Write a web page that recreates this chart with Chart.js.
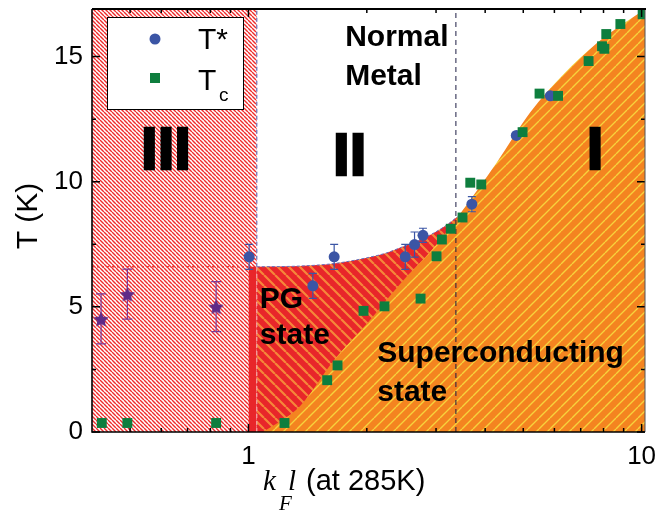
<!DOCTYPE html>
<html>
<head>
<meta charset="utf-8">
<script src="https://cdn.jsdelivr.net/npm/chart.js@4.4.1/dist/chart.umd.min.js"></script>
<style>
  html, body { margin: 0; padding: 0; background: #fff; }
  canvas { display: block; }
</style>
</head>
<body>
<canvas id="phase" width="660" height="513"></canvas>
<script>
// Phase diagram: T (K) against k_F l (at 285K), log x axis

// T* (pseudogap onset) with error bars
const tStarK   = [1.004, 1.458, 1.652, 2.505, 2.645, 2.779, 3.70, 4.80, 5.86];
const tStarT   = [7.0, 5.84, 7.0, 7.0, 7.49, 7.86, 9.1, 11.85, 13.43];
const tStarErr = [0.5, 0.5, 0.5, 0.5, 0.5, 0.28, 0.3, 0, 0];

// Tc
const tcK = [0.4236, 0.4921, 0.8275, 1.235, 1.586, 1.685, 1.962, 2.218, 2.74, 3.009, 3.105,
             3.27, 3.503, 3.666, 3.91, 4.98, 5.50, 6.13, 7.33, 7.93, 8.04, 8.13, 8.83, 10.06];
const tcT = [0.36, 0.36, 0.36, 0.36, 2.07, 2.66, 4.84, 5.02, 5.33, 7.02, 7.69,
             8.12, 8.57, 9.96, 9.89, 11.98, 13.52, 13.43, 14.82, 15.41, 15.31, 15.90, 16.30, 16.69];

// region III points (stars) with error bars
const starK   = [0.4218, 0.4921, 0.8275];
const starT   = [4.52, 5.51, 5.01];
const starErr = [1.0, 1.0, 1.0];

// region boundaries
const kMin = 0.4, kMax = 10.2, tMax = 16.9;
const edgeIII = 1.05;          // end of region III
const edgePG  = 1.0;           // start of the solid pseudogap column
const tPG0    = 6.6;           // T* level at the region III boundary
const edgeNM  = 3.37;          // dashed line at the normal-metal crossover
const pgEdgeK = [1.05, 1.35, 1.65, 2.0, 2.25, 2.43, 2.68, 2.96, 3.2, 3.4];
const pgEdgeT = [6.6, 6.63, 6.73, 6.96, 7.16, 7.36, 7.62, 7.95, 8.28, 8.6];
const scEdgeK = [1.09, 1.35, 1.65, 2.0, 2.43, 2.96, 3.39, 4.29, 5.21, 6.33, 7.70, 10.2];
const scEdgeT = [0, 1.02, 2.87, 4.32, 5.91, 7.36, 8.55, 10.79, 12.77, 14.29, 15.54, 16.9];

// tick marks
const kTicks = [0.5, 0.6, 0.7, 0.8, 0.9, 1, 2, 3, 4, 5, 6, 7, 8, 9, 10];
const kMajor = [1, 10];
const tTicks = [0, 2.5, 5, 7.5, 10, 12.5, 15];

const SANS = "'Liberation Sans', Arial, Helvetica, sans-serif";
const SERIF = "'Liberation Serif', 'Times New Roman', serif";

const pts = (xs, ys) => xs.map((x, i) => ({ x: x, y: ys[i] }));

const canvas = document.getElementById('phase');
const ctx = canvas.getContext('2d');

function hatch(bg, fg, size, width, dir) {
  const c = document.createElement('canvas');
  c.width = size; c.height = size;
  const g = c.getContext('2d');
  g.fillStyle = bg;
  g.fillRect(0, 0, size, size);
  g.strokeStyle = fg;
  g.lineWidth = width;
  g.beginPath();
  for (let k = -1; k <= 1; k++) {
    if (dir === 'down') { g.moveTo(k * size, 0); g.lineTo(k * size + size, size); }
    else { g.moveTo(k * size, size); g.lineTo(k * size + size, 0); }
  }
  g.stroke();
  return ctx.createPattern(c, 'repeat');
}

function starImage(color, r) {
  const s = Math.ceil(r * 2 + 2);
  const c = document.createElement('canvas');
  c.width = s; c.height = s;
  const g = c.getContext('2d');
  g.fillStyle = color;
  g.beginPath();
  for (let i = 0; i < 10; i++) {
    const a = -Math.PI / 2 + i * Math.PI / 5;
    const rr = i % 2 ? r * 0.5 : r;
    g.lineTo(s / 2 + rr * Math.cos(a), s / 2 + 1 + rr * Math.sin(a));
  }
  g.closePath();
  g.fill();
  return c;
}

const fillIII = hatch('#ffffff', '#ef2b2b', 4, 1.4, 'down');
const fillPG  = hatch('#e8262a', '#f5873a', 11, 2.2, 'down');
const fillSC  = hatch('#f48420', '#f7d23c', 11, 1.4, 'up');

const area = (data, bg, order, extra) => Object.assign({
  data: data, fill: 'origin', backgroundColor: bg, borderWidth: 0,
  pointRadius: 0, showLine: true, order: order
}, extra || {});

const rule = (data, color, dash, width, order) => ({
  data: data, fill: false, borderColor: color, borderDash: dash, borderWidth: width,
  pointRadius: 0, showLine: true, order: order
});

// error bars are drawn just before their dataset so the markers sit on top
const errorBars = {
  id: 'errorBars',
  beforeDatasetDraw(chart, args) {
    const ds = chart.data.datasets[args.index];
    if (!ds.errors) return;
    const xs = chart.scales.x, ys = chart.scales.y, c = chart.ctx;
    c.save();
    c.strokeStyle = ds.errorColor;
    c.lineWidth = 1.2;
    ds.data.forEach((p, i) => {
      const e = ds.errors[i];
      if (!e) return;
      const px = xs.getPixelForValue(p.x);
      const top = ys.getPixelForValue(p.y + e), bot = ys.getPixelForValue(p.y - e);
      const cap = ds.capWidth;
      c.beginPath();
      c.moveTo(px, top); c.lineTo(px, bot);
      c.moveTo(px - cap, top); c.lineTo(px + cap, top);
      c.moveTo(px - cap, bot); c.lineTo(px + cap, bot);
      c.stroke();
    });
    c.restore();
  }
};

// box, inward ticks on all four sides
const frame = {
  id: 'frame',
  afterDatasetsDraw(chart) {
    const { left, right, top, bottom } = chart.chartArea;
    const xs = chart.scales.x, ys = chart.scales.y, c = chart.ctx;
    c.save();
    c.strokeStyle = '#000';
    c.lineWidth = 1.5;
    kTicks.forEach(v => {
      const px = xs.getPixelForValue(v);
      const len = kMajor.includes(v) ? 8 : 4;
      c.beginPath();
      c.moveTo(px, bottom); c.lineTo(px, bottom - len);
      c.moveTo(px, top); c.lineTo(px, top + len);
      c.stroke();
    });
    tTicks.forEach(v => {
      const py = ys.getPixelForValue(v);
      const len = v % 5 === 0 ? 8 : 4;
      c.beginPath();
      c.moveTo(left, py); c.lineTo(left + len, py);
      c.moveTo(right, py); c.lineTo(right - len, py);
      c.stroke();
    });
    c.lineWidth = 1;
    c.strokeStyle = '#555';
    c.beginPath(); c.moveTo(right, top); c.lineTo(right, bottom); c.stroke();
    c.strokeStyle = '#000';
    c.lineWidth = 2;
    c.beginPath(); c.moveTo(left, top); c.lineTo(right + 1, top); c.stroke();
    c.lineWidth = 1.6;
    c.beginPath(); c.moveTo(left, top); c.lineTo(left, bottom); c.lineTo(right, bottom); c.stroke();
    c.restore();
  }
};

// region names placed in data coordinates: [text, k, T, size, align]
const regionText = [
  ['III', 0.617, 10.5, 60, 'center'],
  ['II', 1.81, 10.28, 60, 'center'],
  ['I', 7.62, 10.5, 60, 'center'],
  ['Normal', 1.762, 15.44, 30, 'left'],
  ['Metal', 1.762, 13.88, 30, 'left'],
  ['PG', 1.069, 4.96, 30, 'left'],
  ['state', 1.069, 3.5, 30, 'left'],
  ['Superconducting', 2.126, 2.8, 30, 'left'],
  ['state', 2.126, 1.22, 30, 'left']
];

const annotations = {
  id: 'annotations',
  afterDraw(chart) {
    const xs = chart.scales.x, ys = chart.scales.y, c = chart.ctx;
    c.save();
    c.fillStyle = '#000';
    c.textBaseline = 'alphabetic';
    regionText.forEach(([t, k, T, size, align]) => {
      c.font = 'bold ' + size + 'px ' + SANS;
      c.textAlign = align;
      const px = xs.getPixelForValue(k), py = ys.getPixelForValue(T);
      if (size > 40) {
        c.lineWidth = 2.5;
        c.strokeStyle = '#000';
        c.strokeText(t, px, py);
      }
      c.fillText(t, px, py);
    });

    // legend
    c.fillStyle = '#fff';
    c.fillRect(107, 17, 136, 92);
    c.strokeStyle = '#000';
    c.lineWidth = 1;
    c.strokeRect(107.5, 17.5, 136, 92);
    c.fillStyle = '#3b55a5';
    c.beginPath(); c.arc(155, 39, 5.5, 0, Math.PI * 2); c.fill();
    c.fillStyle = '#0e7e3e';
    c.fillRect(150, 73, 10, 10);
    c.fillStyle = '#000';
    c.textAlign = 'left';
    c.font = '30px ' + SANS;
    c.fillText('T*', 198, 49);
    c.fillText('T', 198, 90);
    c.font = '19px ' + SANS;
    c.fillText('c', 219, 101);

    // axis titles
    c.font = '30px ' + SANS;
    c.save();
    c.translate(29, 216);
    c.rotate(-Math.PI / 2);
    c.textAlign = 'center';
    c.textBaseline = 'middle';
    c.fillText('T (K)', 0, 0);
    c.restore();

    c.textAlign = 'left';
    c.font = 'italic 29px ' + SERIF;
    c.fillText('k', 263, 490);
    c.font = 'italic 21px ' + SERIF;
    c.fillText('F', 279, 510);
    c.font = 'italic 29px ' + SERIF;
    c.fillText('l', 288, 490);
    c.font = '29px ' + SANS;
    c.fillText(' (at 285K)', 298, 490);
    c.restore();
  }
};

// keep the plot box fixed: no extra room reserved for edge tick labels
const noEdgePad = s => { s.paddingTop = 0; s.paddingBottom = 0; s.paddingLeft = 0; s.paddingRight = 0; };

new Chart(ctx, {
  type: 'line',
  data: {
    datasets: [
      area([{ x: kMin, y: tMax }, { x: edgeIII, y: tMax }], fillIII, 20),
      area([{ x: edgePG, y: tPG0 }, { x: edgeIII, y: tPG0 }], '#e8262a', 19),
      area(pts(pgEdgeK, pgEdgeT), fillPG, 18,
           { borderWidth: 1, borderColor: '#6470bd', borderDash: [3, 2], cubicInterpolationMode: 'monotone' }),
      area(pts(scEdgeK, scEdgeT), fillSC, 17, { cubicInterpolationMode: 'monotone' }),
      rule([{ x: kMin, y: tPG0 }, { x: edgePG, y: tPG0 }], '#ea3b3b', [2, 3], 1.5, 12),
      rule([{ x: edgeIII, y: tPG0 }, { x: edgeIII, y: tMax }], '#6a6fb8', [4, 3], 1.2, 11),
      rule([{ x: edgeIII, y: 0 }, { x: edgeIII, y: tPG0 }], '#f3aaa8', [4, 3], 1.2, 11),
      rule([{ x: edgeNM, y: 0 }, { x: edgeNM, y: tMax }], '#1c1c44', [5, 4], 1, 10),
      {
        label: 'T*', data: pts(tStarK, tStarT), showLine: false, order: 3,
        pointStyle: 'circle', pointRadius: 5.5, pointBackgroundColor: '#3b55a5', pointBorderWidth: 0,
        errors: tStarErr, errorColor: '#3b55a5', capWidth: 4
      },
      {
        label: 'stars', data: pts(starK, starT), showLine: false, order: 2,
        pointStyle: starImage('#5f2a88', 8), pointRadius: 8,
        errors: starErr, errorColor: '#7a3a98', capWidth: 5
      },
      {
        label: 'Tc', data: pts(tcK, tcT), showLine: false, order: 1,
        pointStyle: 'rect', pointRadius: 7, pointBackgroundColor: '#0e7e3e', pointBorderWidth: 0
      }
    ]
  },
  options: {
    responsive: false,
    animation: false,
    layout: { padding: { top: 6, right: 15, left: 0, bottom: 0 } },
    plugins: { legend: { display: false }, tooltip: { enabled: false } },
    scales: {
      x: {
        type: 'logarithmic', min: kMin, max: kMax,
        grid: { display: false, drawTicks: false }, border: { display: false },
        ticks: {
          autoSkip: false, maxRotation: 0, padding: 9, color: '#000',
          font: { family: SANS, size: 26 },
          callback: v => (Math.abs(v - 1) < 1e-9 ? '1' : Math.abs(v - 10) < 1e-9 ? '10' : '')
        },
        afterFit: s => { s.height = 81; noEdgePad(s); }
      },
      y: {
        min: 0, max: tMax,
        grid: { display: false, drawTicks: false }, border: { display: false },
        ticks: {
          stepSize: 5, padding: 9, color: '#000',
          font: { family: SANS, size: 26 },
          callback: v => (v % 5 === 0 ? String(v) : '')
        },
        afterFit: s => { s.width = 92; noEdgePad(s); }
      }
    }
  },
  plugins: [errorBars, frame, annotations]
});
</script>
</body>
</html>
